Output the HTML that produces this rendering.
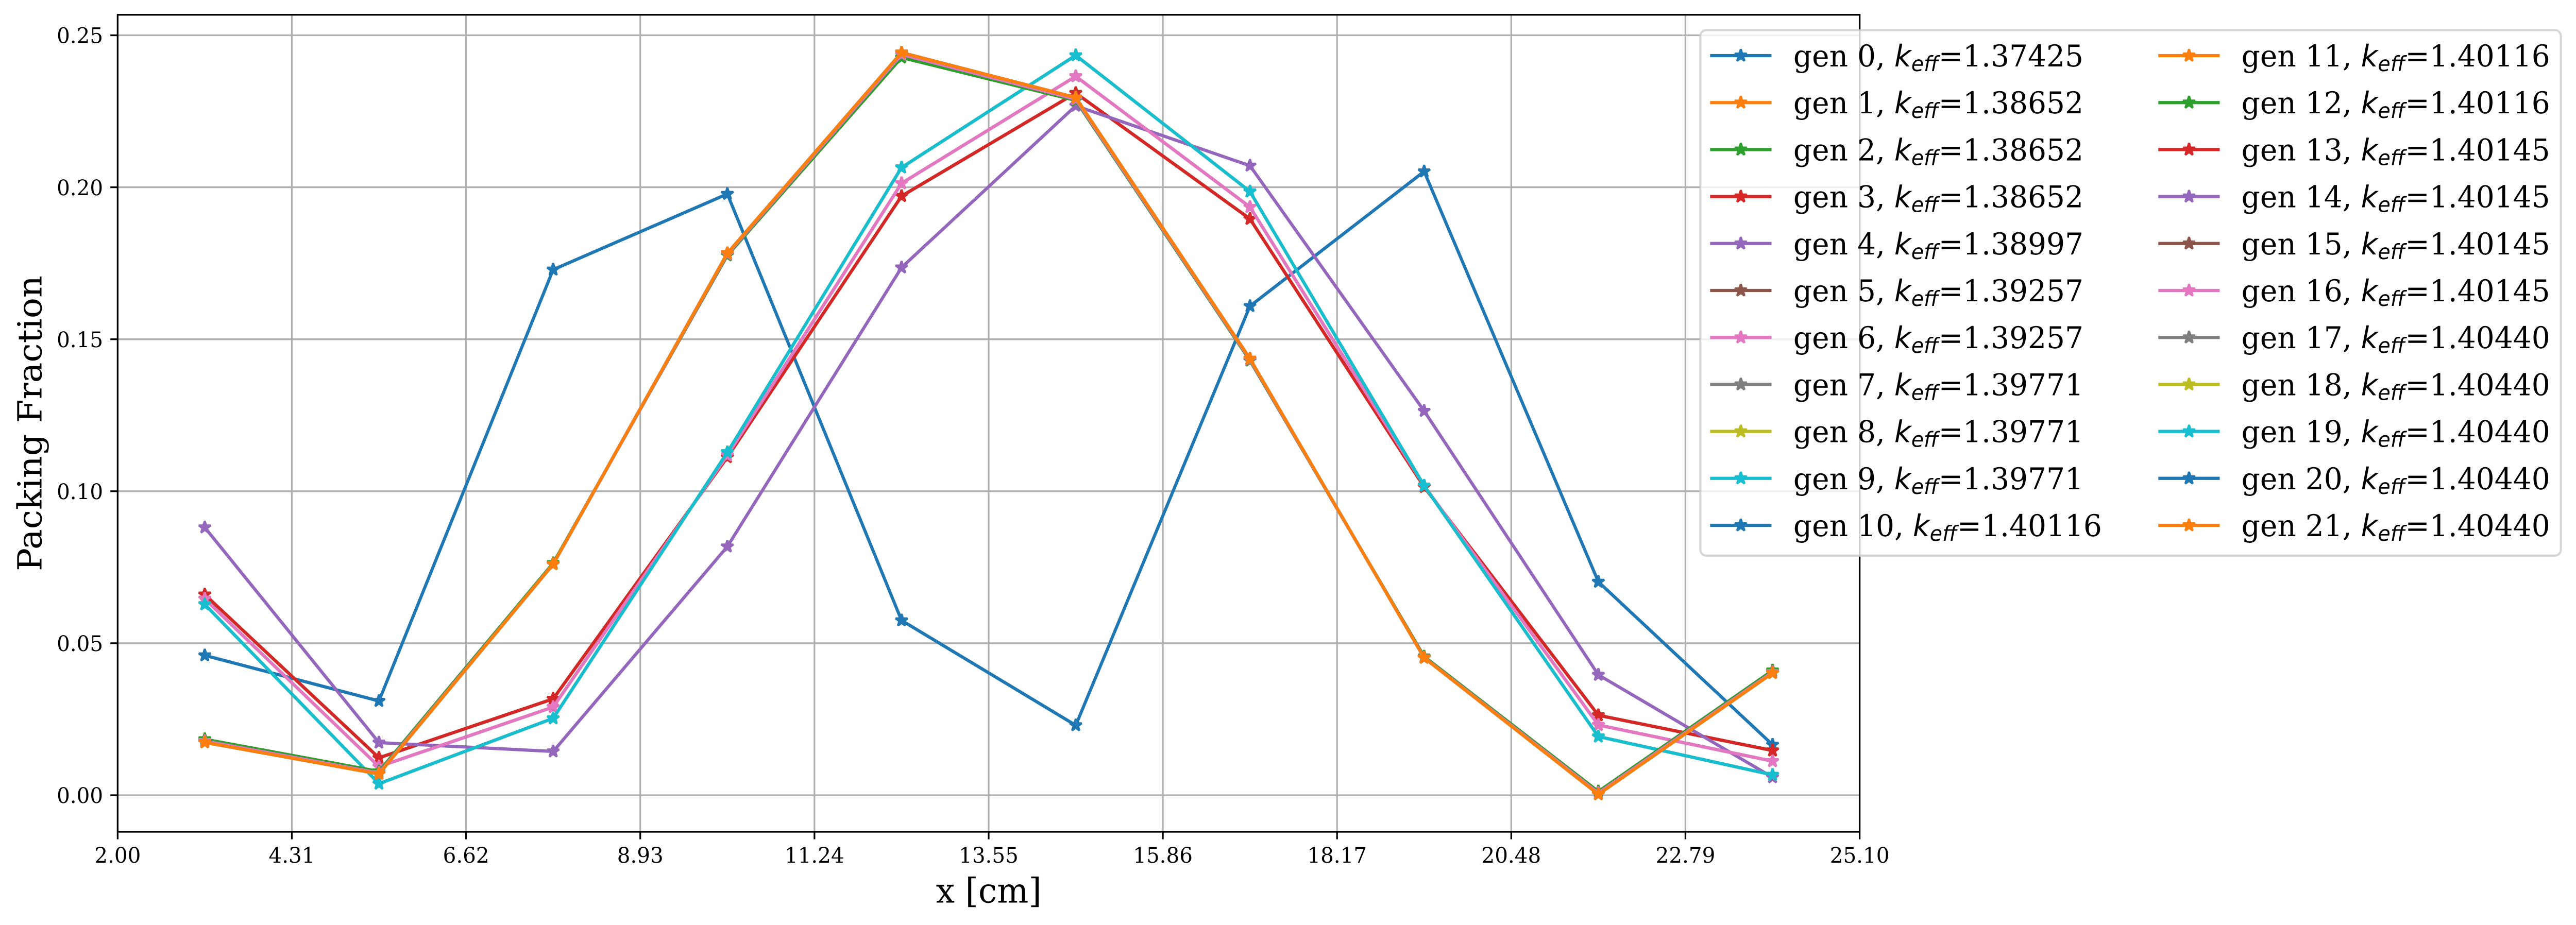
<!DOCTYPE html>
<html lang="en">
<head>
<meta charset="utf-8">
<title>Packing Fraction by Generation</title>
<style>
  html, body { margin: 0; padding: 0; background: #ffffff; overflow: hidden; width: 100vw; height: 100vh; }
  svg { display: block; width: 100vw; height: 100vh; }
  text { fill: #000000; font-family: "DejaVu Serif", "Liberation Serif", serif; text-rendering: geometricPrecision; }
  .tick { font-size: 41.67px; }
  .axis-title { font-size: 66.67px; }
  .lg { font-size: 58.33px; white-space: pre; }
  .m { font-family: "DejaVu Sans", "Liberation Sans", sans-serif; font-style: italic; }
  .s { font-size: 40.83px; }
</style>
</head>
<body>
<svg id="chart" xmlns="http://www.w3.org/2000/svg" viewBox="0 0 5156 1796" preserveAspectRatio="none">
  <rect x="0" y="0" width="5156" height="1796" fill="#ffffff"/>
  <g id="grid"></g>
  <g id="series"></g>
  <g id="spines"></g>
  <g id="ticks"></g>
  <text class="axis-title" x="1979" y="1752.5" text-anchor="middle">x [cm]</text>
  <text class="axis-title" transform="translate(83 822) rotate(-90)" text-anchor="middle">Packing Fraction</text>

  <g id="legend">
    <rect x="3403.3" y="58.6" width="1722.4" height="1020.2" rx="11.67" ry="11.67" fill="#ffffff" fill-opacity="0.8" stroke="#cccccc" stroke-opacity="0.8" stroke-width="4.17"/>
    <g id="legend-handles"></g>
    <text class="lg" x="3589.5" y="129">gen 0, <tspan class="m">k</tspan><tspan class="m s" dy="9">eff</tspan><tspan dy="-9">=1.37425</tspan></text>
    <text class="lg" x="3589.5" y="220.2">gen 1, <tspan class="m">k</tspan><tspan class="m s" dy="9">eff</tspan><tspan dy="-9">=1.38652</tspan></text>
    <text class="lg" x="3589.5" y="311.4">gen 2, <tspan class="m">k</tspan><tspan class="m s" dy="9">eff</tspan><tspan dy="-9">=1.38652</tspan></text>
    <text class="lg" x="3589.5" y="402.6">gen 3, <tspan class="m">k</tspan><tspan class="m s" dy="9">eff</tspan><tspan dy="-9">=1.38652</tspan></text>
    <text class="lg" x="3589.5" y="493.8">gen 4, <tspan class="m">k</tspan><tspan class="m s" dy="9">eff</tspan><tspan dy="-9">=1.38997</tspan></text>
    <text class="lg" x="3589.5" y="585">gen 5, <tspan class="m">k</tspan><tspan class="m s" dy="9">eff</tspan><tspan dy="-9">=1.39257</tspan></text>
    <text class="lg" x="3589.5" y="676.2">gen 6, <tspan class="m">k</tspan><tspan class="m s" dy="9">eff</tspan><tspan dy="-9">=1.39257</tspan></text>
    <text class="lg" x="3589.5" y="767.4">gen 7, <tspan class="m">k</tspan><tspan class="m s" dy="9">eff</tspan><tspan dy="-9">=1.39771</tspan></text>
    <text class="lg" x="3589.5" y="858.6">gen 8, <tspan class="m">k</tspan><tspan class="m s" dy="9">eff</tspan><tspan dy="-9">=1.39771</tspan></text>
    <text class="lg" x="3589.5" y="949.8">gen 9, <tspan class="m">k</tspan><tspan class="m s" dy="9">eff</tspan><tspan dy="-9">=1.39771</tspan></text>
    <text class="lg" x="3589.5" y="1041">gen 10, <tspan class="m">k</tspan><tspan class="m s" dy="9">eff</tspan><tspan dy="-9">=1.40116</tspan></text>
    <text class="lg" x="4486.4" y="129">gen 11, <tspan class="m">k</tspan><tspan class="m s" dy="9">eff</tspan><tspan dy="-9">=1.40116</tspan></text>
    <text class="lg" x="4486.4" y="220.2">gen 12, <tspan class="m">k</tspan><tspan class="m s" dy="9">eff</tspan><tspan dy="-9">=1.40116</tspan></text>
    <text class="lg" x="4486.4" y="311.4">gen 13, <tspan class="m">k</tspan><tspan class="m s" dy="9">eff</tspan><tspan dy="-9">=1.40145</tspan></text>
    <text class="lg" x="4486.4" y="402.6">gen 14, <tspan class="m">k</tspan><tspan class="m s" dy="9">eff</tspan><tspan dy="-9">=1.40145</tspan></text>
    <text class="lg" x="4486.4" y="493.8">gen 15, <tspan class="m">k</tspan><tspan class="m s" dy="9">eff</tspan><tspan dy="-9">=1.40145</tspan></text>
    <text class="lg" x="4486.4" y="585">gen 16, <tspan class="m">k</tspan><tspan class="m s" dy="9">eff</tspan><tspan dy="-9">=1.40145</tspan></text>
    <text class="lg" x="4486.4" y="676.2">gen 17, <tspan class="m">k</tspan><tspan class="m s" dy="9">eff</tspan><tspan dy="-9">=1.40440</tspan></text>
    <text class="lg" x="4486.4" y="767.4">gen 18, <tspan class="m">k</tspan><tspan class="m s" dy="9">eff</tspan><tspan dy="-9">=1.40440</tspan></text>
    <text class="lg" x="4486.4" y="858.6">gen 19, <tspan class="m">k</tspan><tspan class="m s" dy="9">eff</tspan><tspan dy="-9">=1.40440</tspan></text>
    <text class="lg" x="4486.4" y="949.8">gen 20, <tspan class="m">k</tspan><tspan class="m s" dy="9">eff</tspan><tspan dy="-9">=1.40440</tspan></text>
    <text class="lg" x="4486.4" y="1041">gen 21, <tspan class="m">k</tspan><tspan class="m s" dy="9">eff</tspan><tspan dy="-9">=1.40440</tspan></text>
  </g>
</svg>
<script>
// Chart data
const xValues = [3.155, 5.465, 7.775, 10.085, 12.395, 14.705, 17.015, 19.325, 21.635, 23.945];
const gen0Values = [0.0460, 0.0310, 0.1729, 0.1978, 0.0575, 0.0230, 0.1609, 0.2052, 0.0702, 0.0166];
const gen1To3Values = [0.0660, 0.0123, 0.0317, 0.1112, 0.1971, 0.2310, 0.1896, 0.1014, 0.0263, 0.0147];
const gen4Values = [0.0881, 0.0173, 0.0144, 0.0818, 0.1736, 0.2268, 0.2071, 0.1264, 0.0396, 0.0059];
const gen5To6Values = [0.0646, 0.0094, 0.0290, 0.1118, 0.2013, 0.2365, 0.1935, 0.1018, 0.0231, 0.0112];
const gen7To9Values = [0.0628, 0.0038, 0.0253, 0.1128, 0.2065, 0.2434, 0.1986, 0.1018, 0.0193, 0.0067];
const gen10To12Values = [0.0184, 0.0078, 0.0763, 0.1776, 0.2427, 0.2286, 0.1430, 0.0456, 0.0012, 0.0410];
const gen13To16Values = [0.0178, 0.0073, 0.0760, 0.1780, 0.2437, 0.2290, 0.1433, 0.0453, 0.0007, 0.0405];
const gen17To21Values = [0.0174, 0.0070, 0.0760, 0.1783, 0.2443, 0.2295, 0.1436, 0.0452, 0.0003, 0.0402];
const seriesByGeneration = [
  gen0Values,
  gen1To3Values, gen1To3Values, gen1To3Values,
  gen4Values,
  gen5To6Values, gen5To6Values,
  gen7To9Values, gen7To9Values, gen7To9Values,
  gen10To12Values, gen10To12Values, gen10To12Values,
  gen13To16Values, gen13To16Values, gen13To16Values, gen13To16Values,
  gen17To21Values, gen17To21Values, gen17To21Values, gen17To21Values, gen17To21Values
];
const xTickValues = [2.00, 4.31, 6.62, 8.93, 11.24, 13.55, 15.86, 18.17, 20.48, 22.79, 25.10];
const xTickLabels = ["2.00", "4.31", "6.62", "8.93", "11.24", "13.55", "15.86", "18.17", "20.48", "22.79", "25.10"];
const yTickValues = [0.00, 0.05, 0.10, 0.15, 0.20, 0.25];
const yTickLabels = ["0.00", "0.05", "0.10", "0.15", "0.20", "0.25"];
const palette = ["#1f77b4", "#ff7f0e", "#2ca02c", "#d62728", "#9467bd", "#8c564b", "#e377c2", "#7f7f7f", "#bcbd22", "#17becf"];

// Axis functions
const plotLeft = 235.5, plotRight = 3722.2, plotTop = 28.7, plotBottom = 1615;
function xAxis(v) { return plotLeft + (v - 2.0) * (plotRight - plotLeft) / (25.1 - 2.0); }
function yAxis(v) { return 1544 - v * (1544 - 68.5) / 0.25; }

const NS = "http://www.w3.org/2000/svg";
function make(tag, parent, attrs) {
  const el = document.createElementNS(NS, tag);
  for (const k in attrs) el.setAttribute(k, attrs[k]);
  parent.appendChild(el);
  return el;
}
function starPoints(cx, cy) {
  const pts = [];
  for (let k = 0; k < 10; k++) {
    const r = (k % 2 === 0) ? 12.5 : 12.5 * 0.381966;
    const t = -Math.PI / 2 + k * Math.PI / 5;
    pts.push((cx + r * Math.cos(t)).toFixed(2) + "," + (cy + r * Math.sin(t)).toFixed(2));
  }
  return pts.join(" ");
}
function addStar(parent, cx, cy, color) {
  return make("polygon", parent, {
    points: starPoints(cx, cy), fill: color, stroke: color,
    "stroke-width": 4.17, "stroke-linejoin": "bevel"
  });
}

// Grid
const gridGroup = document.getElementById("grid");
xTickValues.forEach(function (v, i) {
  const g = make("line", gridGroup, { x1: xAxis(v), x2: xAxis(v), y1: plotTop, y2: plotBottom, stroke: "#b0b0b0", "stroke-width": 3.33 });
  
  
});
yTickValues.forEach(function (v, i) {
  const g = make("line", gridGroup, { x1: plotLeft, x2: plotRight, y1: yAxis(v), y2: yAxis(v), stroke: "#b0b0b0", "stroke-width": 3.33 });
  
  
});

// Series
const seriesGroup = document.getElementById("series");
seriesByGeneration.forEach(function (values, gen) {
  const color = palette[gen % palette.length];
  const group = make("g", seriesGroup, {});
  
  
  const pts = values.map(function (v, i) { return xAxis(xValues[i]).toFixed(2) + "," + yAxis(v).toFixed(2); }).join(" ");
  const line = make("polyline", group, { points: pts, fill: "none", stroke: color, "stroke-width": 6.25, "stroke-linejoin": "round", "stroke-linecap": "square" });
  
  
  values.forEach(function (v, i) {
    const star = addStar(group, xAxis(xValues[i]), yAxis(v), color);
    
    
  });
});

// Spines
const spineGroup = document.getElementById("spines");
const frame = make("rect", spineGroup, { x: plotLeft, y: plotTop, width: plotRight - plotLeft, height: plotBottom - plotTop, fill: "none", stroke: "#000000", "stroke-width": 3.33 });



// Ticks and tick labels
const tickGroup = document.getElementById("ticks");
xTickValues.forEach(function (v, i) {
  const mark = make("line", tickGroup, { x1: xAxis(v), x2: xAxis(v), y1: plotBottom, y2: plotBottom + 14.6, stroke: "#000000", "stroke-width": 3.33 });
  
  
  const label = make("text", tickGroup, { x: xAxis(v), y: 1675, "text-anchor": "middle", class: "tick" });
  
  
  label.textContent = xTickLabels[i];
});
yTickValues.forEach(function (v, i) {
  const mark = make("line", tickGroup, { x1: plotLeft - 14.6, x2: plotLeft, y1: yAxis(v), y2: yAxis(v), stroke: "#000000", "stroke-width": 3.33 });
  
  
  const label = make("text", tickGroup, { x: 206.3, y: yAxis(v) + 15.2, "text-anchor": "end", class: "tick" });
  
  
  label.textContent = yTickLabels[i];
});

// Legend handles
const handleGroup = document.getElementById("legend-handles");
seriesByGeneration.forEach(function (values, gen) {
  const col = gen < 11 ? 0 : 1;
  const row = gen < 11 ? gen : gen - 11;
  const x0 = col === 0 ? 3426 : 4323.1;
  const y = 108 + 91.2 * row;
  const color = palette[gen % palette.length];
  const handle = make("g", handleGroup, {});
  
  
  make("line", handle, { x1: x0, x2: x0 + 116.67, y1: y, y2: y, stroke: color, "stroke-width": 6.25, "stroke-linecap": "square" });
  addStar(handle, x0 + 58.33, y, color);
});
</script>
</body>
</html>
